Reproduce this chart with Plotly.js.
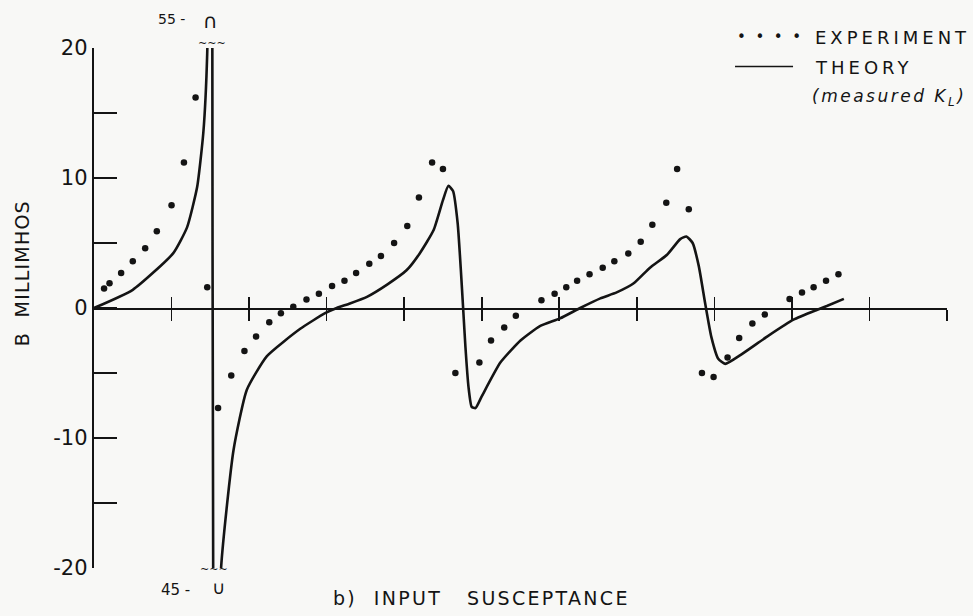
<!DOCTYPE html>
<html>
<head>
<meta charset="utf-8">
<script src="https://cdn.plot.ly/plotly-3.0.1.min.js"></script>
<style>
html,body{margin:0;padding:0;background:#f8f8f6;}
#chart{width:973px;height:616px;}
</style>
</head>
<body>
<div id="chart"></div>
<script>
// Theory curve (measured K_L)
const theoryX = [0, 0.5, 1.02, 1.2, 1.33, 1.41, 1.46, 1.52, 1.545, 1.64, 1.8, 1.97, 2.23, 2.66, 2.98, 3.13, 3.3, 3.52, 3.78, 4.03, 4.2, 4.38, 4.5, 4.57, 4.63, 4.69, 4.73, 4.76, 4.79, 4.83, 4.87, 4.92, 5.0, 5.24, 5.5, 5.75, 6.01, 6.27, 6.53, 6.74, 6.96, 7.17, 7.39, 7.56, 7.64, 7.72, 7.8, 7.88, 7.96, 8.05, 8.14, 8.34, 8.68, 9.02, 9.32, 9.45, 9.67];
const theoryY = [0, 1.4, 4.2, 6.2, 9.3, 13.5, 19.6, 55, -45, -19.9, -10.9, -6.3, -3.7, -1.6, -0.4, 0, 0.35, 0.86, 1.8, 2.9, 4.2, 6.0, 8.3, 9.4, 9.0, 6.5, 3.0, 0, -3.0, -6.1, -7.6, -7.7, -6.8, -4.2, -2.5, -1.4, -0.8, 0, 0.74, 1.2, 1.9, 3.1, 4.1, 5.3, 5.5, 5.0, 3.2, 0.4, -2.2, -3.9, -4.3, -3.6, -2.2, -0.9, -0.15, 0.15, 0.7];

// Experiment points
const expX = [0.13, 0.2, 0.35, 0.5, 0.66, 0.81, 1.0, 1.16, 1.31, 1.46, 1.6, 1.77, 1.94, 2.09, 2.26, 2.41, 2.57, 2.74, 2.9, 3.07, 3.23, 3.38, 3.55, 3.7, 3.87, 4.04, 4.19, 4.36, 4.5, 4.66, 4.97, 5.12, 5.29, 5.44, 5.77, 5.94, 6.09, 6.23, 6.39, 6.56, 6.71, 6.89, 7.05, 7.2, 7.38, 7.52, 7.67, 7.84, 7.99, 8.17, 8.32, 8.49, 8.65, 8.97, 9.13, 9.28, 9.44, 9.6];
const expY = [1.5, 1.9, 2.7, 3.6, 4.6, 5.9, 7.9, 11.2, 16.2, 1.6, -7.7, -5.2, -3.3, -2.2, -1.1, -0.4, 0.1, 0.65, 1.1, 1.7, 2.1, 2.7, 3.4, 4.0, 5.0, 6.3, 8.5, 11.2, 10.7, -5.0, -4.2, -2.5, -1.5, -0.6, 0.6, 1.1, 1.6, 2.1, 2.6, 3.1, 3.6, 4.2, 5.1, 6.4, 8.1, 10.7, 7.6, -5.0, -5.3, -3.8, -2.3, -1.2, -0.5, 0.7, 1.2, 1.6, 2.1, 2.6];

// Axis ticks
const yTickVals = [-20, -15, -10, -5, 0, 5, 10, 15, 20];
const yTickText = ['-20', '', '-10', '', '0', '', '10', '', '20'];
const xTickVals = [1, 2, 3, 4, 5, 6, 7, 8, 9, 10, 11];

const ink = '#141414';
const fontFam = 'DejaVu Sans, Liberation Sans, sans-serif';

const traces = [
  {x: theoryX, y: theoryY, type: 'scatter', mode: 'lines', line: {color: ink, width: 2.6, shape: 'spline', smoothing: 0.5}, xaxis: 'x', yaxis: 'y', showlegend: false, hoverinfo: 'skip'},
  {x: expX, y: expY, type: 'scatter', mode: 'markers', marker: {color: ink, size: 6.5}, xaxis: 'x2', yaxis: 'y', showlegend: false, hoverinfo: 'skip'}
];

function ann(text, x, y, size, opts) {
  return Object.assign({text: text, x: x, y: y, xref: 'paper', yref: 'paper', xanchor: 'center', yanchor: 'middle', showarrow: false, font: {family: fontFam, size: size, color: ink}}, opts || {});
}
function sp(t, px) { return '<span style="letter-spacing:' + px + 'px">' + t + '</span>'; }

const layout = {
  width: 973, height: 616,
  paper_bgcolor: '#f8f8f6', plot_bgcolor: '#f8f8f6',
  margin: {l: 94, r: 26, t: 47.5, b: 48},
  showlegend: false,
  xaxis: {range: [0, 11], anchor: 'free', position: 0.5, showline: true, linecolor: ink, linewidth: 1.6,
          ticks: 'outside', ticklen: 11, tickwidth: 1.6, tickcolor: ink, tickvals: xTickVals,
          showticklabels: false, showgrid: false, zeroline: false},
  xaxis2: {overlaying: 'x', matches: 'x', anchor: 'free', position: 0.5, side: 'bottom', showline: false,
           ticks: 'inside', ticklen: 11, tickwidth: 1.6, tickcolor: ink, tickvals: xTickVals,
           showticklabels: false, showgrid: false, zeroline: false},
  yaxis: {range: [-20, 20], showline: true, linecolor: ink, linewidth: 2.2, ticks: 'inside', ticklen: 23,
          tickwidth: 2, tickcolor: ink, tickvals: yTickVals, ticktext: yTickText,
          tickfont: {family: fontFam, size: 21, color: ink}, showgrid: false, zeroline: false},
  annotations: [
    ann(sp('B&nbsp;&nbsp;MILLIMHOS', 1.2), -0.0844, 0.567, 19, {textangle: -90}),
    ann(sp('b)&nbsp;&nbsp;INPUT&nbsp;&nbsp;&nbsp;SUSCEPTANCE', 2.3), 0.4537, -0.0576, 19),
    ann('•&nbsp;&nbsp;•&nbsp;&nbsp;•&nbsp;&nbsp;•', 0.7515, 1.0202, 15, {xanchor: 'left'}),
    ann(sp('EXPERIMENT', 4), 0.843, 1.0202, 18, {xanchor: 'left'}),
    ann(sp('THEORY', 4), 0.843, 0.9626, 18, {xanchor: 'left'}),
    ann('<i>' + sp('(measured K<sub>L</sub>)', 2.5), 0.839, 0.905, 17, {xanchor: 'left'}),
    ann('55 -', 0.0914, 1.0567, 14),
    ann('∩', 0.137, 1.052, 20),
    ann('~~~', 0.138, 1.0087, 11),
    ann('~~~', 0.1407, -0.002, 11),
    ann('∪', 0.1465, -0.038, 18),
    ann('45 -', 0.095, -0.042, 15)
  ],
  shapes: [
    {type: 'line', xref: 'paper', yref: 'paper', x0: 0.7515, x1: 0.8195, y0: 0.9645, y1: 0.9645, line: {color: ink, width: 1.6}}
  ]
};

Plotly.newPlot('chart', traces, layout, {staticPlot: true, displayModeBar: false});
</script>
</body>
</html>
